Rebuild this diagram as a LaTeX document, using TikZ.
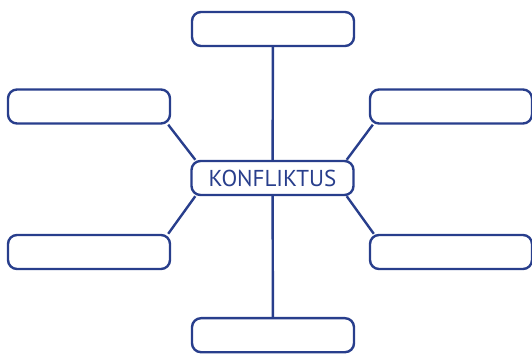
\documentclass[tikz,border=0pt]{standalone}
\usepackage{fontspec}
\setmainfont{PT Sans}
\usepackage{tikz}
\usetikzlibrary{backgrounds}
\definecolor{konfblue}{RGB}{40,62,140}

\begin{document}
\begin{tikzpicture}[x=1pt,y=1pt,
  box/.style={draw=konfblue, line width=2.4pt, rounded corners=9pt, fill=white,
    minimum width=162pt, minimum height=34pt, inner sep=0pt},
  link/.style={draw=konfblue, line width=2.4pt}]
\useasboundingbox (0,0) rectangle (532,353);
% kozepso fogalom
\node[box, text=konfblue, font=\fontsize{23}{26}\selectfont] (konf) at (272.5,175) {KONFLIKTUS};
% ures mezok
\node[box] (top) at (273,324) {};
\node[box] (bottom) at (273,17.8) {};
\node[box] (ltop) at (89,246.5) {};
\node[box] (lbot) at (89,101) {};
\node[box] (rtop) at (451,246.5) {};
\node[box] (rbot) at (451,101) {};
% osszekotok a mezok mogott
\begin{scope}[on background layer]
\path[link] (top) -- (konf);
\path[link] (konf) -- (bottom);
\path[link] ([xshift=-3pt]ltop.south east) -- ([xshift=5pt]konf.north west);
\path[link] ([xshift=-3pt]lbot.north east) -- ([xshift=5pt]konf.south west);
\path[link] ([xshift=4pt]rtop.south west) -- ([xshift=-8pt]konf.north east);
\path[link] ([xshift=5pt]rbot.north west) -- ([xshift=-8pt]konf.south east);
\end{scope}
\end{tikzpicture}
\end{document}
